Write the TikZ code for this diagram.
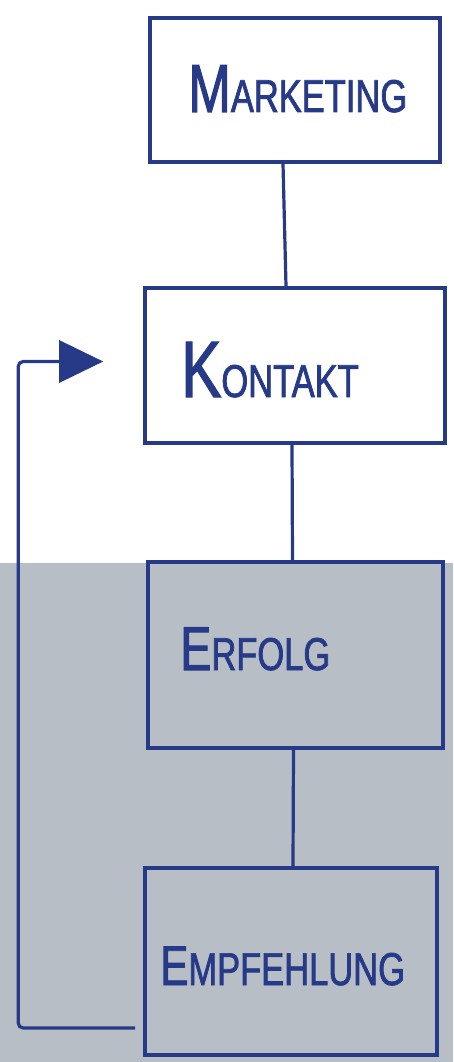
\documentclass[tikz,border=0pt]{standalone}
\usepackage{fontspec}
\newfontfamily\handfont[FakeStretch=0.75,FakeBold=1.6]{Liberation Sans}
\usetikzlibrary{arrows.meta,calc,positioning}
\definecolor{ink}{RGB}{38,58,135}
\definecolor{band}{RGB}{184,190,198}
\newcommand\hsc[3][68]{{\fontsize{#1}{#1}\selectfont #2}{\fontsize{46}{46}\selectfont #3}}

\begin{document}
\begin{tikzpicture}[x=1pt,y=-1pt,
  box/.style={draw=ink,line width=3.6pt,rectangle,inner sep=0pt},
  lbl/.style={anchor=base west,text=ink,font=\handfont,inner sep=0pt},
  link/.style={draw=ink,line width=3.2pt}]
  \useasboundingbox (0,0) rectangle (453,1062);
  \fill[band] (0,563) rectangle (453,1062);

  % boxes
  \node[box,minimum width=290pt,minimum height=144pt] (mk) at (295,90) {};
  \node[box,minimum width=300pt,minimum height=155pt] (ko) at (295,365.5) {};
  \node[box,minimum width=295pt,minimum height=186pt] (er) at (295.5,655) {};
  \node[box,minimum width=292pt,minimum height=187pt] (em) at (291,961.5) {};

  % labels
  \node[lbl] (mktxt) at ($(mk.west)+(40,22)$) {\hsc{M}{ARKETING}};
  \node[lbl] (kotxt) at ($(ko.west)+(38,31.5)$) {\hsc[80]{K}{ONTAKT}};
  \node[lbl] (ertxt) at ($(er.west)+(34,15)$) {\hsc[62]{E}{RFOLG}};
  \node[lbl] (emtxt) at ($(em.west)+(17,23.5)$) {\hsc[56]{E}{MPFEHLUNG}};

  % links
  \foreach \a/\b/\s/\t in {mk/ko/-12/-9, ko/er/-3/-3, er/em/-2/2}
    \draw[link] ([xshift=\s pt]\a.south) -- ([xshift=\t pt]\b.north);

  % feedback
  \coordinate (fbout) at ($(em.west)+(-8,66.5)$);
  \coordinate (fbin) at ($(ko.west)+(-40,-4)$);
  \draw[link,rounded corners=5pt,-{Triangle[length=44pt,width=42pt]}]
    (fbout) -- ++(-117,0) |- (fbin);
\end{tikzpicture}
\end{document}
